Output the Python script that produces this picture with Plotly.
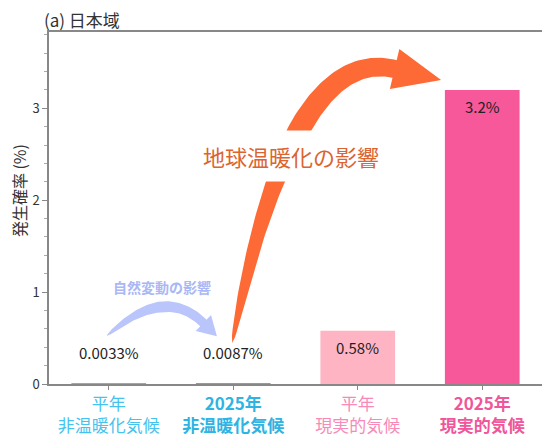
import numpy as np
import plotly.graph_objects as go

# data
categories = ["平年<br>非温暖化気候", "2025年<br>非温暖化気候", "平年<br>現実的気候", "2025年<br>現実的気候"]
probability = [0.0033, 0.0087, 0.58, 3.2]  # 発生確率 (%)
bar_colors = ["#4fc3e8", "#4bb4da", "#ffb4c4", "#f7589a"]
label_colors = ["#45c3ee", "#2fb3e3", "#f78ab8", "#f0569b"]
label_bold = [False, True, False, True]

OFF = 8  # the page body margin shifts the figure by 8px
W, H = 550 - OFF, 445 - OFF
ML, MR, MT, MB = 49 - OFF, 6, 32 - OFF, 61
XR = [-0.48, 3.48]
YR = [0, 3.83]
FONT = "Noto Sans CJK JP"


def to_data(px, py):
    # screenshot pixels -> axis units (figure size is fixed)
    px, py = px - OFF, py - OFF
    x = XR[0] + (px - ML) / (W - ML - MR) * (XR[1] - XR[0])
    y = YR[0] + (H - MB - py) / (H - MT - MB) * (YR[1] - YR[0])
    return x, y


def to_paper(px, py):
    px, py = px - OFF, py - OFF
    return (px - ML) / (W - ML - MR), (H - MB - py) / (H - MT - MB)


def curved_arrow(p0, p1, p2, w_mid, w_end, head_w, head_len, n=90):
    """tapered quadratic-bezier arrow, built in pixel space"""
    p0, p1, p2 = map(np.array, (p0, p1, p2))
    t = np.linspace(0, 1, n)[:, None]
    pts = (1 - t) ** 2 * p0 + 2 * t * (1 - t) * p1 + t ** 2 * p2
    d = 2 * (1 - t) * (p1 - p0) + 2 * t * (p2 - p1)
    d = d / np.linalg.norm(d, axis=1, keepdims=True)
    nrm = np.column_stack([-d[:, 1], d[:, 0]])
    tt = t[:, 0]
    w = np.where(tt < 0.5, w_mid * np.sqrt(tt / 0.5), w_mid + (w_end - w_mid) * (tt - 0.5) / 0.5)
    left = pts + nrm * w[:, None] / 2
    right = pts - nrm * w[:, None] / 2
    tip = p2 + d[-1] * head_len
    c1 = p2 + nrm[-1] * head_w / 2
    c2 = p2 - nrm[-1] * head_w / 2
    poly = np.vstack([left, c1, tip, c2, right[::-1]])
    xs, ys = zip(*[to_data(px, py) for px, py in poly])
    return list(xs), list(ys)


xpos = list(range(len(categories)))
ticktext = []
for cat, col, b in zip(categories, label_colors, label_bold):
    txt = f"<b>{cat}</b>" if b else cat
    ticktext.append(f"<span style='color:{col}'>{txt}</span>")

fig = go.Figure()
fig.add_trace(go.Bar(x=xpos, y=probability, width=0.6, marker_color=bar_colors,
                     marker_line_width=0, hoverinfo="skip", showlegend=False))

# natural variability arrow (blue) and warming arrow (orange)
bx, by = curved_arrow((107, 336), (164.5, 284.5), (204, 323), 11, 9, 22, 19)
fig.add_trace(go.Scatter(x=bx, y=by, fill="toself", fillcolor="#bac5fb", mode="lines",
                         line_width=0, hoverinfo="skip", showlegend=False))
ox, oy = curved_arrow((233, 343), (291, 44), (396, 69), 22, 18, 41, 48)
fig.add_trace(go.Scatter(x=ox, y=oy, fill="toself", fillcolor="#fd6a35", mode="lines",
                         line_width=0, hoverinfo="skip", showlegend=False))

# value labels
for x, v in zip(xpos, probability):
    fig.add_annotation(x=x, y=max(v - 0.18, 0.34), text=f"{v}%", showarrow=False,
                       font=dict(family=FONT, size=15, color="#222222"))

tx, ty = to_data(292, 156)
fig.add_annotation(x=tx, y=ty, text="地球温暖化の影響", showarrow=False, bgcolor="white",
                   borderpad=9, font=dict(family=FONT, size=22, color="#dc6430"))
nx, ny = to_data(162, 287)
fig.add_annotation(x=nx, y=ny, text="<b>自然変動の影響</b>", showarrow=False,
                   font=dict(family=FONT, size=14, color="#aab7f6"))

px_, py_ = to_paper(42, 20)
fig.add_annotation(xref="paper", yref="paper", x=px_, y=py_, xanchor="left", yanchor="middle",
                   text="(a) 日本域", showarrow=False,
                   font=dict(family=FONT, size=17, color="#333333"))
px_, py_ = to_paper(19, 191)
fig.add_annotation(xref="paper", yref="paper", x=px_, y=py_, xanchor="center", yanchor="middle",
                   textangle=-90, text="発生確率 (%)", showarrow=False,
                   font=dict(family=FONT, size=16, color="#333333"))

fig.update_layout(
    width=W, height=H,
    margin=dict(l=ML, r=MR, t=MT, b=MB),
    paper_bgcolor="white", plot_bgcolor="white",
    font=dict(family=FONT, color="#333333"),
)
fig.update_xaxes(range=XR, tickvals=xpos, ticktext=ticktext, ticks="outside", ticklen=4,
                 tickcolor="#888888", showline=True, linecolor="#888888", linewidth=1.5,
                 mirror=True, showgrid=False, zeroline=False, layer="below traces",
                 tickfont=dict(size=17, family=FONT))
fig.update_yaxes(range=YR, tickvals=[0, 1, 2, 3], ticks="outside", ticklen=5, tickcolor="#888888",
                 minor=dict(dtick=0.2, ticks="outside", ticklen=3, tickcolor="#aaaaaa"),
                 showline=True, linecolor="#888888", linewidth=1.5, mirror=True, showgrid=False,
                 zeroline=False, tickfont=dict(size=13, family=FONT, color="#333333"))

fig.write_html("out.html")
